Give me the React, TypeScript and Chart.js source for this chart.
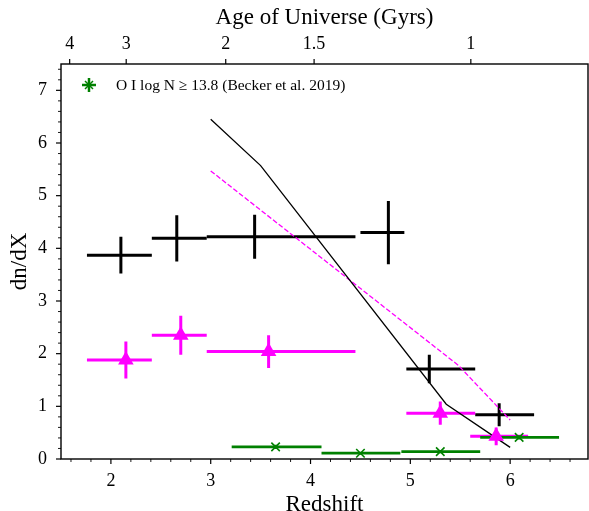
import { useEffect, useRef } from "react";
import { Chart, registerables } from "chart.js";

Chart.register(...registerables);

// Absorber line densities per redshift bin (black: full sample, magenta: sub-sample)
const blackZ = [2.1, 2.66, 3.44, 4.78, 5.19, 5.89];
const blackZLow = [1.76, 2.41, 2.96, 4.5, 4.96, 5.65];
const blackZHigh = [2.41, 2.96, 4.45, 4.94, 5.65, 6.24];
const blackDndx = [3.87, 4.19, 4.22, 4.3, 1.71, 0.84];
const blackErr = [0.35, 0.44, 0.42, 0.6, 0.27, 0.22];

const magZ = [2.15, 2.7, 3.58, 5.3, 5.86];
const magZLow = [1.76, 2.41, 2.96, 4.96, 5.6];
const magZHigh = [2.41, 2.96, 4.45, 5.65, 6.18];
const magDndx = [1.88, 2.35, 2.04, 0.87, 0.43];
const magErr = [0.35, 0.37, 0.31, 0.22, 0.17];

// O I absorbers, log N >= 13.8 (Becker et al. 2019)
const oiZ = [3.65, 4.5, 5.3, 6.09];
const oiZLow = [3.21, 4.11, 4.91, 5.7];
const oiZHigh = [4.11, 4.9, 5.7, 6.49];
const oiDndx = [0.23, 0.11, 0.14, 0.41];
const oiErr = [0.04, 0.03, 0.03, 0.04];

// Model curves
const modelZ = [3.0, 3.5, 5.36, 6.0];
const modelDndx = [6.45, 5.57, 1.04, 0.22];
const modelAltZ = [3.0, 5.48, 6.0];
const modelAltDndx = [5.47, 1.78, 0.74];

// Top axis: age of the universe in Gyr
const ageTicks = [4, 3, 2, 1.5, 1];

const FONT = "'Liberation Serif', 'Times New Roman', serif";
const BLACK = "#000000";
const MAGENTA = "#ff00ff";
const GREEN = "#008000";

// Flat LCDM (H0 = 70, Om = 0.3): redshift at which the universe has age t (Gyr)
function redshiftAtAge(t: number): number {
  const om = 0.3;
  const ol = 1 - om;
  const hubbleTime = 977.8 / 70;
  const s = Math.sinh((1.5 * Math.sqrt(ol) * t) / hubbleTime);
  return Math.pow(Math.sqrt(ol / om) / s, 2 / 3) - 1;
}
const ageZ = ageTicks.map(redshiftAtAge);

const isInt = (v: number) => Math.abs(v - Math.round(v)) < 1e-6;

function points(z: number[], lo: number[], hi: number[], y: number[], err: number[]) {
  return z.map((v, i) => ({
    x: v,
    y: y[i],
    xMin: lo[i],
    xMax: hi[i],
    yMin: y[i] - err[i],
    yMax: y[i] + err[i],
  }));
}

// keep the plot box fixed: no extra room for edge tick labels
const noEdgePadding = (s: any) => {
  s.paddingLeft = 0;
  s.paddingRight = 0;
  s.paddingTop = 0;
  s.paddingBottom = 0;
};

const errorBarPlugin = {
  id: "errorBars",
  beforeDatasetsDraw(chart: any) {
    const { ctx, chartArea: a } = chart;
    const xs = chart.scales.x;
    const ys = chart.scales.y;
    ctx.save();
    ctx.beginPath();
    ctx.rect(a.left, a.top, a.right - a.left, a.bottom - a.top);
    ctx.clip();
    chart.data.datasets.forEach((ds: any) => {
      if (!ds.errorBarColor) return;
      ctx.strokeStyle = ds.errorBarColor;
      ctx.lineWidth = ds.errorBarWidth;
      ctx.lineCap = "butt";
      ds.data.forEach((p: any) => {
        const cx = xs.getPixelForValue(p.x);
        const cy = ys.getPixelForValue(p.y);
        ctx.beginPath();
        ctx.moveTo(xs.getPixelForValue(p.xMin), cy);
        ctx.lineTo(xs.getPixelForValue(p.xMax), cy);
        ctx.moveTo(cx, ys.getPixelForValue(p.yMin));
        ctx.lineTo(cx, ys.getPixelForValue(p.yMax));
        ctx.stroke();
      });
    });
    ctx.restore();
  },
};

const axisDecorPlugin = {
  id: "axisDecor",
  afterDraw(chart: any) {
    const { ctx, chartArea: a } = chart;
    const xs = chart.scales.x;
    const ys = chart.scales.y;
    const top = chart.scales.xTop;
    ctx.save();
    ctx.strokeStyle = "#000";
    ctx.lineCap = "butt";

    // bottom axis: major ticks at integers, minor every 0.2
    for (let k = Math.ceil(xs.min / 0.2 - 1e-9); k * 0.2 <= xs.max + 1e-9; k++) {
      const major = k % 5 === 0;
      const px = xs.getPixelForValue(k * 0.2);
      ctx.lineWidth = major ? 1.2 : 0.9;
      ctx.beginPath();
      ctx.moveTo(px, a.bottom);
      ctx.lineTo(px, a.bottom + (major ? 5 : 3));
      ctx.stroke();
    }
    // left axis
    for (let k = Math.ceil(ys.min / 0.2 - 1e-9); k * 0.2 <= ys.max + 1e-9; k++) {
      const major = k % 5 === 0;
      const py = ys.getPixelForValue(k * 0.2);
      ctx.lineWidth = major ? 1.2 : 0.9;
      ctx.beginPath();
      ctx.moveTo(a.left, py);
      ctx.lineTo(a.left - (major ? 5 : 3), py);
      ctx.stroke();
    }
    // top axis: age ticks
    ageZ.forEach((z) => {
      const px = top.getPixelForValue(z);
      ctx.lineWidth = 1.2;
      ctx.beginPath();
      ctx.moveTo(px, a.top);
      ctx.lineTo(px, a.top - 5);
      ctx.stroke();
    });

    // frame
    ctx.lineWidth = 1.4;
    ctx.strokeRect(a.left, a.top, a.right - a.left, a.bottom - a.top);

    // legend (upper left)
    const lx = a.left + 28;
    const ly = a.top + 21;
    ctx.strokeStyle = GREEN;
    ctx.lineWidth = 2.5;
    ctx.beginPath();
    ctx.moveTo(lx - 7, ly);
    ctx.lineTo(lx + 7, ly);
    ctx.moveTo(lx, ly - 7);
    ctx.lineTo(lx, ly + 7);
    ctx.stroke();
    ctx.lineWidth = 1.5;
    ctx.beginPath();
    ctx.moveTo(lx - 4, ly - 4);
    ctx.lineTo(lx + 4, ly + 4);
    ctx.moveTo(lx - 4, ly + 4);
    ctx.lineTo(lx + 4, ly - 4);
    ctx.stroke();
    ctx.fillStyle = "#000";
    ctx.font = `15.5px ${FONT}`;
    ctx.textBaseline = "middle";
    ctx.textAlign = "left";
    ctx.fillText("O I log N \u2265 13.8 (Becker et al. 2019)", lx + 27, ly + 1);
    ctx.restore();
  },
};

export default function App() {
  const ref = useRef<HTMLCanvasElement>(null);

  useEffect(() => {
    document.body.style.margin = "0";
    const tickFont = { family: FONT, size: 18 };
    const titleFont = { family: FONT, size: 23, lineHeight: 1 };

    const chart = new Chart(ref.current as HTMLCanvasElement, {
      type: "scatter",
      data: {
        datasets: [
          {
            label: "model",
            data: modelZ.map((z, i) => ({ x: z, y: modelDndx[i] })),
            showLine: true,
            borderColor: BLACK,
            borderWidth: 1.3,
            pointRadius: 0,
            xAxisID: "x",
            yAxisID: "y",
            order: 3,
          } as any,
          {
            label: "model alt",
            data: modelAltZ.map((z, i) => ({ x: z, y: modelAltDndx[i] })),
            showLine: true,
            borderColor: MAGENTA,
            borderWidth: 1.3,
            borderDash: [5, 2.2],
            pointRadius: 0,
            xAxisID: "x",
            yAxisID: "y",
            order: 3,
          } as any,
          {
            label: "all",
            data: points(blackZ, blackZLow, blackZHigh, blackDndx, blackErr),
            errorBarColor: BLACK,
            errorBarWidth: 3,
            pointRadius: 0,
            xAxisID: "x",
            yAxisID: "y",
            order: 2,
          } as any,
          {
            label: "subset",
            data: points(magZ, magZLow, magZHigh, magDndx, magErr),
            errorBarColor: MAGENTA,
            errorBarWidth: 3,
            pointStyle: "triangle",
            pointRadius: 9,
            backgroundColor: MAGENTA,
            borderColor: MAGENTA,
            borderWidth: 0,
            xAxisID: "x",
            yAxisID: "y",
            order: 1,
          } as any,
          {
            label: "O I log N \u2265 13.8 (Becker et al. 2019)",
            data: points(oiZ, oiZLow, oiZHigh, oiDndx, oiErr),
            errorBarColor: GREEN,
            errorBarWidth: 2.8,
            pointStyle: "crossRot",
            pointRadius: 6,
            borderColor: GREEN,
            borderWidth: 1.6,
            xAxisID: "x",
            yAxisID: "y",
            order: 0,
          } as any,
        ],
      },
      options: {
        animation: false,
        responsive: false,
        devicePixelRatio: 1,
        layout: { autoPadding: false, padding: { left: 0, right: 1, top: 0, bottom: 0 } },
        plugins: { legend: { display: false }, tooltip: { enabled: false } },
        scales: {
          x: {
            type: "linear",
            position: "bottom",
            min: 1.5,
            max: 6.78,
            afterFit: (s: any) => {
              s.height = 52;
              noEdgePadding(s);
            },
            grid: { display: false, drawTicks: false },
            border: { display: false },
            ticks: {
              stepSize: 0.2,
              autoSkip: false,
              maxRotation: 0,
              padding: 11,
              color: "#000",
              font: tickFont,
              callback: (v: any) => (isInt(Number(v)) ? String(Math.round(Number(v))) : ""),
            },
            title: {
              display: true,
              text: "Redshift",
              color: "#000",
              font: titleFont,
              padding: { top: 0, bottom: -5 },
            },
          },
          xTop: {
            type: "linear",
            position: "top",
            min: 1.5,
            max: 6.78,
            afterBuildTicks: (s: any) => {
              s.ticks = ageZ.map((v) => ({ value: v }));
            },
            afterFit: (s: any) => {
              s.height = 64;
              noEdgePadding(s);
            },
            grid: { display: false, drawTicks: false },
            border: { display: false },
            ticks: {
              autoSkip: false,
              maxRotation: 0,
              padding: 9,
              color: "#000",
              font: tickFont,
              callback: (_v: any, i: number) => String(ageTicks[i]),
            },
            title: {
              display: true,
              text: "Age of Universe (Gyrs)",
              color: "#000",
              font: titleFont,
              padding: { top: 6, bottom: 0 },
            },
          },
          y: {
            type: "linear",
            position: "left",
            min: 0,
            max: 7.5,
            afterFit: (s: any) => {
              s.width = 61;
              noEdgePadding(s);
            },
            grid: { display: false, drawTicks: false },
            border: { display: false },
            ticks: {
              stepSize: 0.2,
              autoSkip: false,
              padding: 14,
              color: "#000",
              font: tickFont,
              callback: (v: any) => (isInt(Number(v)) ? String(Math.round(Number(v))) : ""),
            },
            title: {
              display: true,
              text: "dn/dX",
              color: "#000",
              font: titleFont,
              padding: { top: 8, bottom: 0 },
            },
          },
        },
      } as any,
      plugins: [errorBarPlugin, axisDecorPlugin],
    });
    return () => chart.destroy();
  }, []);

  return (
    <div style={{ width: 589, height: 511 }}>
      <canvas ref={ref} width={589} height={511} style={{ display: "block" }} />
    </div>
  );
}
